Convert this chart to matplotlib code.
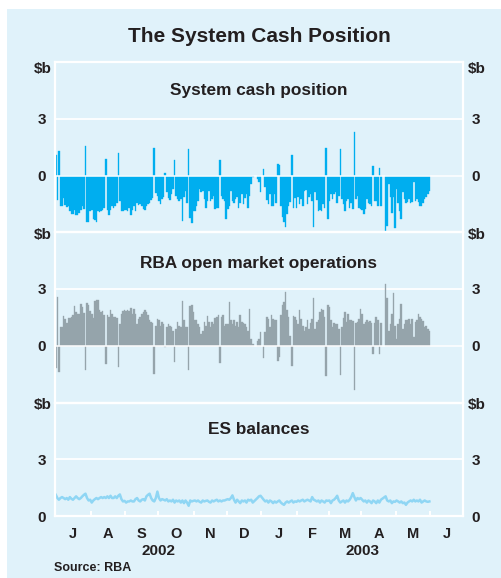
import numpy as np
import pandas as pd
import matplotlib
matplotlib.use('Agg')
import matplotlib.pyplot as plt
from matplotlib.patches import Rectangle

na = np.nan

# daily data, business days 1 Jul 2002 - 30 May 2003 ($b); one row per month
cash_position = [
    1.1, -1.3, 1.3, -1.6, -1.6, -1.2, -1.55, -1.65, -1.6, -1.9, -2.05, -2.05, -1.8, -2.1, -2.1, -2.0, -1.8, -1.6, -1.75, 1.55, -2.45, -2.45, -1.9,
    -1.84, -2.3, -2.35, -2.45, -1.9, -1.95, -1.9, -1.85, -1.7, 0.86, -1.8, -2.1, -1.8, -1.6, -1.7, -1.6, -1.45, 1.2, -1.35, -1.9, -1.9, -1.85,
    -1.84, -1.88, -1.7, -2.1, -1.84, -1.6, -1.88, -1.43, -1.57, -1.52, -1.6, -1.75, -1.8, -1.6, -1.52, -1.43, -1.27, -1.2, 1.43, -0.93, -1.07,
    -1.34, -1.52, -1.25, -1.12, 0.15, -0.89, -1.2, -1.3, -0.98, -0.71, 0.82, -1.07, -1.25, -1.34, -1.25, -2.38, -1.16, -0.8, -1.43, 1.39, -2.23, -2.5, -1.88,
    -1.88, -1.6, -1.34, -0.7, -0.89, -0.8, -1.25, -1.7, -1.34, -0.8, -1.34, -1.25, -1.07, -1.79, -1.7, -1.7, 0.84, -1.07, -1.25, -1.34, -2.32,
    -1.79, -1.61, -0.8, -1.34, -1.48, -1.25, -1.16, -1.73, -1.43, -0.98, -1.52, -1.2, -0.98, -1.73, -1.1, -0.45, -0.1, na, na, -0.18, -0.36, -0.89,
    na, 0.34, -0.63, -1.3, -1.52, -0.98, -1.61, -1.61, -0.98, -1.43, 0.59, 0.54, -1.61, -2.2, -2.45, -2.7, -2.02, -1.61, -1.4, 1.07, -1.7, -1.2, -1.7,
    -1.16, -1.52, -1.25, -1.61, -0.8, -0.77, -1.52, -1.16, -0.98, -1.34, -2.7, -0.89, -1.3, -1.88, -1.84, -1.88, -1.5, -1.7, 1.43, -2.32,
    -1.34, -0.98, -1.25, -0.98, -0.89, -1.43, -1.07, 1.39, -1.25, -1.52, -1.88, -1.34, -1.25, -1.7, -1.43, -1.79, 2.29, -1.25, -1.07, -1.7, -1.79,
    -1.8, -2.05, -1.79, -1.25, -1.43, -1.52, -1.6, 0.48, -1.34, -1.34, -1.61, 0.41, -1.61, na, na, -2.95, -2.68, -0.45, -1.13, -1.96, -1.16, -2.77,
    -0.71, -1.43, -1.88, -2.32, -0.89, -1.25, -1.43, -1.38, -1.25, -1.43, -1.38, -0.36, -1.34, -1.25, -1.4, -1.61, -1.61, -1.43, -1.25, -1.16, -0.98, -0.8,
]

market_ops = [
    -1.16, 2.6, -1.37, 1.0, 1.0, 1.55, 1.43, 1.2, 1.48, 1.48, 1.5, 1.6, 2.1, 1.8, 1.7, 1.7, 2.2, 2.05, 1.73, -1.3, 2.27, 2.14, 1.84,
    1.7, 1.45, 2.37, 2.4, 2.4, 1.88, 1.8, 1.84, 1.6, -0.95, 1.6, 1.52, 1.88, 1.7, 1.52, 1.52, 1.48, -1.13, 1.16, 1.7, 1.84, 1.88,
    1.84, 1.88, 1.84, 2.0, 1.7, 1.96, 1.7, 1.16, 1.43, 1.52, 1.7, 1.8, 1.88, 1.8, 1.6, 1.38, 1.25, 1.2, -1.48, 1.07, 1.43,
    1.34, 1.02, 1.25, 1.16, -0.05, 0.98, 1.16, 1.07, 0.98, 0.8, -0.84, 0.89, 1.25, 1.07, 0.98, 2.37, 1.34, 0.98, 0.98, -1.3, 2.1, 2.14, 1.8,
    1.34, 1.34, 1.16, 0.98, 0.63, 0.8, 1.25, 1.07, 1.55, 1.25, 0.98, 1.25, 1.16, 1.48, 1.52, 1.6, -0.9, 1.52, 1.6, 1.07, 1.16,
    1.16, 2.32, 1.34, 1.16, 1.34, 1.07, 1.25, 0.98, 1.64, 1.25, 1.2, 1.16, 0.98, 0.8, 1.96, 0.36, 0.1, na, na, 0.27, 0.36, 0.71,
    na, -0.66, 0.71, 1.52, 1.43, 0.98, 1.6, 1.43, 1.34, 1.34, -0.8, -0.6, 1.6, 2.14, 2.32, 2.86, 1.88, 1.52, 0.54, -1.07, 1.55, 1.52, 1.34,
    1.16, 1.88, 1.43, 1.07, 0.8, 0.98, 1.34, 0.89, 1.2, 1.43, 2.55, 0.89, 1.25, 1.34, 1.8, 1.96, 1.88, 1.5, -1.6, 2.14,
    2.05, 1.34, 0.98, 1.2, 1.16, 1.16, 0.89, -1.57, 0.98, 1.48, 1.8, 1.25, 1.7, 1.34, 1.38, 1.3, -2.36, 1.2, 1.25, 1.43, 1.96,
    1.7, 1.16, 1.25, 1.34, 1.25, 1.3, 1.2, -0.41, 1.2, 1.52, 1.34, -0.41, 1.2, na, na, 3.27, 2.5, 0.8, 1.16, 1.7, 2.77, 1.07,
    0.36, 1.16, 1.4, 2.2, 0.89, 1.16, 1.34, 1.38, 1.43, 1.16, 1.43, 0.45, 1.25, 1.34, 1.7, 1.52, 1.43, 1.3, 0.98, 1.07, 0.89, 0.8,
]

es_balances = [
    1.12, 0.95, 0.86, 0.95, 1.0, 0.95, 0.89, 0.95, 0.86, 1.0, 0.91, 0.86, 0.95, 1.04, 0.95, 0.89, 0.95, 1.04, 1.12, 1.18, 0.95, 0.82, 0.86,
    0.71, 0.82, 0.89, 0.95, 0.89, 0.95, 1.0, 0.95, 1.0, 0.95, 1.04, 0.95, 1.07, 0.95, 0.95, 1.04, 0.95, 1.07, 1.14, 0.89, 0.77, 0.8,
    0.71, 0.77, 0.77, 0.82, 0.77, 0.77, 0.89, 0.95, 0.82, 0.77, 0.86, 0.89, 0.82, 1.04, 1.12, 1.18, 0.95, 0.82, 0.77, 0.95, 1.29,
    0.95, 0.82, 0.89, 0.86, 0.82, 0.89, 0.77, 0.82, 0.77, 0.86, 0.71, 0.82, 0.77, 0.82, 0.71, 0.82, 0.68, 0.82, 0.71, 0.54, 0.82, 0.77, 0.8,
    0.82, 0.77, 0.82, 0.75, 0.71, 0.82, 0.77, 0.8, 0.82, 0.75, 0.71, 0.82, 0.77, 0.82, 0.86, 0.77, 0.82, 0.77, 0.82, 0.82, 0.86,
    0.89, 0.86, 0.95, 1.09, 0.86, 0.71, 0.86, 0.77, 0.68, 0.82, 0.77, 0.82, 0.71, 0.86, 0.82, 0.86, 0.71, na, na, 0.95, 1.04, 1.07,
    na, 0.86, 0.77, 0.82, 0.71, 0.82, 0.77, 0.68, 0.77, 0.71, 0.77, 0.82, 0.71, 0.64, 0.59, 0.71, 0.77, 0.71, 0.77, 0.82, 0.71, 0.77, 0.75,
    0.82, 0.77, 0.82, 0.86, 0.77, 0.82, 0.86, 0.82, 0.77, 1.0, 0.86, 0.82, 0.77, 0.82, 0.71, 0.82, 0.77, 0.71, 0.82, 0.8,
    0.82, 0.68, 0.82, 0.86, 0.95, 1.07, 0.82, 0.71, 0.77, 0.82, 0.71, 0.82, 0.77, 0.86, 1.0, 1.21, 1.0, 0.82, 0.95, 0.89, 0.95,
    0.86, 0.77, 0.82, 0.71, 0.82, 0.77, 0.68, 0.82, 0.77, 0.68, 0.82, 0.71, 0.86, na, na, 1.04, 0.82, 0.77, 0.82, 0.68, 0.77, 0.75,
    0.82, 0.77, 0.71, 0.77, 0.68, 0.71, 0.59, 0.71, 0.77, 0.82, 0.77, 0.86, 0.77, 0.82, 0.77, 0.86, 0.71, 0.77, 0.82, 0.77, 0.75, 0.77,
]

month_labels = ['J', 'A', 'S', 'O', 'N', 'D', 'J', 'F', 'M', 'A', 'M', 'J']
year_labels = ['2002', '2003']
panel_titles = ['System cash position', 'RBA open market operations', 'ES balances']

# business-day axis: Jul 2002 to Jun 2003, data up to end of May
axis_days = pd.bdate_range('2002-07-01', '2003-06-30')
n_data = len(cash_position)
x = np.arange(n_data)
month_starts = pd.date_range('2002-07-01', '2003-07-01', freq='MS')
month_edges = axis_days.searchsorted(month_starts)
month_mids = (month_edges[:-1] + month_edges[1:]) / 2

# ---- style
bg = '#e0f2fa'
ink = '#231f20'
plt.rcParams['font.family'] = ['Liberation Sans', 'DejaVu Sans']
plt.rcParams['font.weight'] = 'bold'

fig = plt.figure(figsize=(5.02, 5.78), dpi=100)
fig.patches.append(Rectangle((7 / 502, 0), 1, 1 - 9 / 578, transform=fig.transFigure,
                             facecolor=bg, edgecolor='none', zorder=-1))
gs = fig.add_gridspec(3, 1, height_ratios=[9, 9, 6], left=55 / 502, right=463 / 502,
                      top=1 - 62 / 578, bottom=1 - 516 / 578, hspace=0)
axes = [fig.add_subplot(gs[i]) for i in range(3)]

series = [np.array(cash_position), np.array(market_ops), np.array(es_balances)]
colors = ['#00aeef', '#95a4ab', '#8fd6f4']
ylims = [(-3, 6), (-3, 6), (0, 6)]
title_dy = [28, 31, 27]
unit_dy = [7, 3, 2.5]

for i, ax in enumerate(axes):
    ax.set_zorder(1)
    ax.set_facecolor('none')
    ax.set_xlim(0, len(axis_days))
    ax.set_ylim(*ylims[i])
    for s in ax.spines.values():
        s.set_color('white')
        s.set_linewidth(1.6)
    ax.axhline(3, color='white', lw=1.3, zorder=1)

    vals = series[i]
    if i < 2:
        ax.bar(x, vals, width=1.0, align='edge', color=colors[i],
               edgecolor=colors[i], linewidth=0.25, zorder=2)
        ax.axhline(0, color='white', lw=1.1, zorder=3)
    else:
        ok = ~np.isnan(vals)
        ax.plot(x[ok] + 0.5, vals[ok], color=colors[i], lw=1.8, zorder=2)

    ax.set_yticks([0, 3], labels=['0', '3'])
    ax.tick_params(axis='y', length=0, pad=9.3, labelright=True, labelsize=11, colors=ink)
    for t in ax.yaxis.get_major_ticks():
        t.label1.set_ha('center')
        t.label2.set_ha('center')

    ax.annotate('$b', xy=(0, 1), xycoords='axes fraction', xytext=(-12, -unit_dy[i]),
                textcoords='offset pixels', ha='center', va='center', fontsize=11, color=ink)
    ax.annotate('$b', xy=(1, 1), xycoords='axes fraction', xytext=(14, -unit_dy[i]),
                textcoords='offset pixels', ha='center', va='center', fontsize=11, color=ink)
    ax.annotate(panel_titles[i], xy=(0.5, 1), xycoords='axes fraction', xytext=(0, -title_dy[i]),
                textcoords='offset pixels', ha='center', va='center', fontsize=12.4, color=ink)

    if i < 2:
        ax.set_xticks([])
    else:
        ax.set_xticks(month_edges[1:-1])
        ax.set_xticks(month_mids, labels=month_labels, minor=True)
        ax.tick_params(axis='x', which='major', direction='in', length=3.5, width=1.4,
                       color='white', labelbottom=False)
        ax.tick_params(axis='x', which='minor', length=0, pad=8, labelsize=10.5, colors=ink)

# years centred under their half of the axis
year_pos = [month_edges[6] / 2, (month_edges[6] + month_edges[12]) / 2]
for yr, xp in zip(year_labels, year_pos):
    axes[2].annotate(yr, xy=(xp, 0), xycoords=('data', 'axes fraction'), xytext=(0, -35),
                     textcoords='offset pixels', ha='center', va='center', fontsize=11, color=ink)

fig.text(259 / 502, 1 - 37 / 578, 'The System Cash Position', ha='center', va='center',
         fontsize=15, color=ink)
fig.text(54 / 502, 1 - 568 / 578, 'Source: RBA', ha='left', va='center', fontsize=9, color=ink)

fig.savefig('out.png', dpi=100, facecolor='white')
